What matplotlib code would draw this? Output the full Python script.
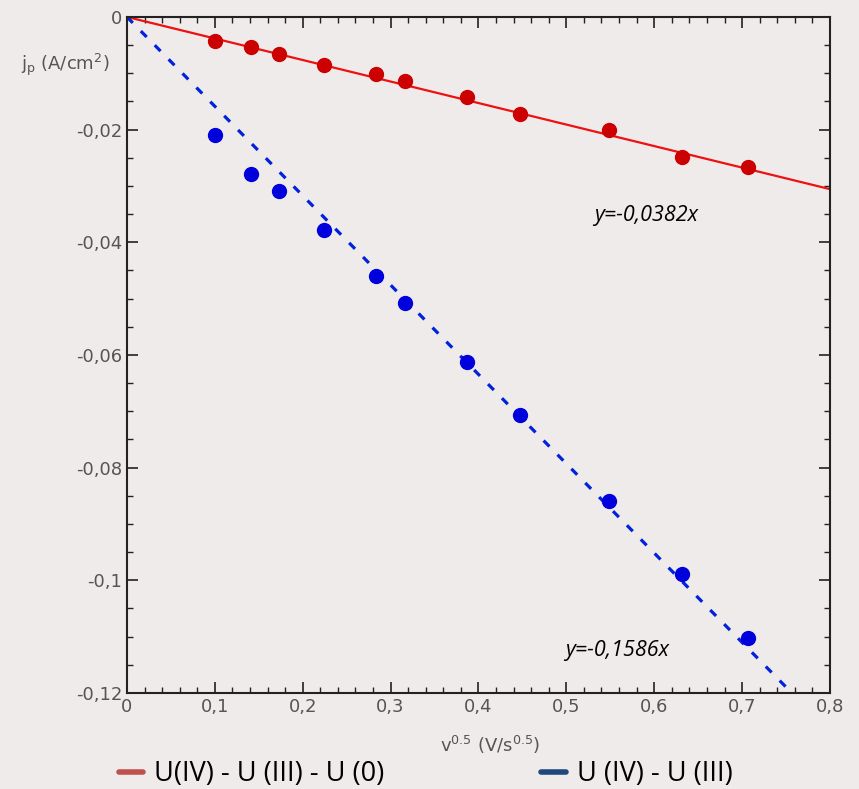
import numpy as np
import matplotlib
matplotlib.use('Agg')
import matplotlib.pyplot as plt
from matplotlib.lines import Line2D
from matplotlib.ticker import MultipleLocator, FuncFormatter

# data
sqrt_v = [0.1, 0.141, 0.173, 0.224, 0.283, 0.316, 0.387, 0.447, 0.548, 0.632, 0.707]
jp_u0 = [-0.0043, -0.0053, -0.0066, -0.0085, -0.0101, -0.0114, -0.0142, -0.0172,
         -0.0201, -0.0249, -0.0267]
jp_u3 = [-0.0210, -0.0279, -0.0309, -0.0379, -0.0460, -0.0507, -0.0612, -0.0706,
         -0.0859, -0.0988, -0.1102]
slope_u0 = -0.0382
slope_u3 = -0.1586
fit_x_u0 = [0.0, 0.8]
fit_x_u3 = [0.0, 0.75]

labels = ['U(IV) - U (III) - U (0)', 'U (IV) - U (III)']

bg = '#F0EBEB'
red_pt = '#CC0000'
red_line = '#EE1111'
blue_pt = '#0000DD'
blue_line = '#0022DD'
tick_col = '#555555'

fig = plt.figure(figsize=(8.59, 7.89), dpi=100, facecolor=bg)
ax = fig.add_axes([0.1478, 0.1217, 0.8184, 0.8568], facecolor=bg)

# fit lines
ax.plot(fit_x_u0, [slope_u0 * x for x in fit_x_u0], color=red_line, lw=1.6, zorder=2)
ax.plot(fit_x_u3, [slope_u3 * x for x in fit_x_u3], color=blue_line, lw=2.3,
        dashes=(2.6, 3.6), zorder=2)

# measured points
ax.plot(sqrt_v, jp_u0, 'o', color=red_pt, ms=10, zorder=3)
ax.plot(sqrt_v, jp_u3, 'o', color=blue_pt, ms=10, zorder=3)

ax.text(0.531, -0.0352, 'y=-0,0382x', fontsize=15.5, style='italic', va='center',
        family='Open Sans')
ax.text(0.499, -0.1125, 'y=-0,1586x', fontsize=15.5, style='italic', va='center',
        family='Open Sans')

ax.set_xlim(0, 0.8)
ax.set_ylim(-0.12, 0)
ax.xaxis.set_major_locator(MultipleLocator(0.1))
ax.xaxis.set_minor_locator(MultipleLocator(0.02))
ax.yaxis.set_major_locator(MultipleLocator(0.02))
ax.yaxis.set_minor_locator(MultipleLocator(0.005))


def comma(v, pos):
    s = f'{v:.2f}'.rstrip('0').rstrip('.')
    if s in ('-0', ''):
        s = '0'
    return s.replace('.', ',')


ax.xaxis.set_major_formatter(FuncFormatter(comma))
ax.yaxis.set_major_formatter(FuncFormatter(comma))

ax.tick_params(which='both', direction='in', top=True, right=True, colors='#222222',
               labelcolor=tick_col, labelsize=13)
ax.tick_params(which='major', length=8, width=1.2)
ax.tick_params(which='minor', length=4, width=1)
for sp in ax.spines.values():
    sp.set_linewidth(1.5)
    sp.set_color('#222222')

fig.text(0.024, 0.911, r'j$_\mathregular{p}$ (A/cm$^\mathregular{2}$)', fontsize=13,
         color='#555555')
fig.text(0.57, 0.047, r'v$^\mathregular{0.5}$ (V/s$^\mathregular{0.5}$)', fontsize=13,
         color='#555555', ha='center')

handles = [Line2D([0], [0], color='#C0504D', lw=4, solid_capstyle='round'),
           Line2D([0], [0], color='#1F497D', lw=4, solid_capstyle='round')]
fig.legend(handles, labels, loc='lower left', bbox_to_anchor=(0.11, -0.03), ncol=2,
           frameon=False, handlelength=0.9, handletextpad=0.4, columnspacing=5.8,
           prop={'family': 'Open Sans', 'size': 19.5})

fig.savefig('out.png', dpi=100, facecolor=bg)
